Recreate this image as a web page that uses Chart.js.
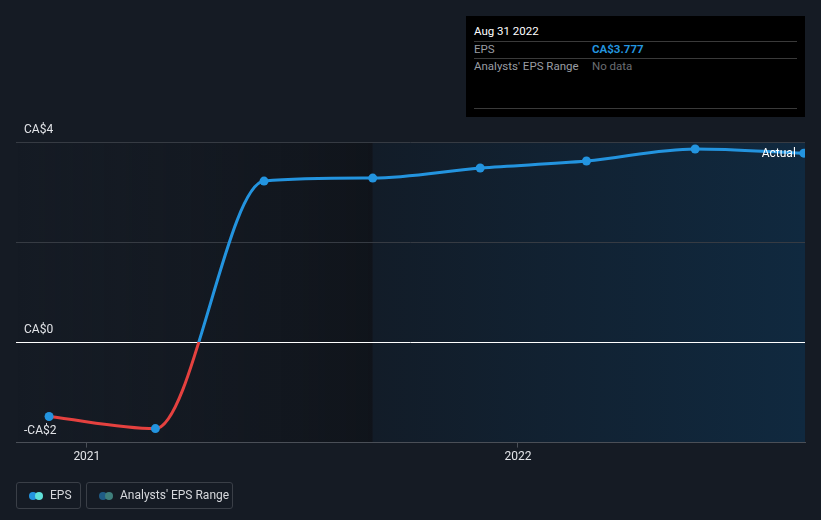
<!DOCTYPE html>
<html>
<head>
<meta charset="utf-8">
<script src="https://cdn.jsdelivr.net/npm/chart.js@4.4.0/dist/chart.umd.min.js"></script>
<style>
    body { margin: 0; background: #151b24; font-family: Roboto, sans-serif; }
    #wrap { position: relative; width: 821px; height: 520px; }
    #chart { position: absolute; left: 0; top: 0; }
    .tip { position: absolute; left: 466px; top: 16px; width: 339px; height: 101px; background: #000; }
    .tip .row { position: absolute; left: 8px; right: 8px; font-size: 11.5px; }
    .tip .sep { position: absolute; left: 8px; right: 8px; height: 1px; background: #3a3a3a; }
    .legend { position: absolute; top: 482px; height: 25px; border: 1px solid #3a3f47; border-radius: 3px; color: #d6d8dc; font-size: 12px; line-height: 25px; }
    .dots { position: absolute; top: 9px; width: 16px; height: 8px; }
    .dots span { position: absolute; top: 0; width: 8px; height: 8px; border-radius: 50%; }
</style>
</head>
<body>
<div id="wrap">
    <canvas id="chart" width="821" height="520"></canvas>
    <div class="tip">
        <div class="row" style="top:8px;color:#fff;">Aug 31 2022</div>
        <div class="sep" style="top:25px;"></div>
        <div class="row" style="top:26px;color:#9a9da3;">EPS<span style="position:absolute;left:118px;color:#2394df;font-weight:bold;">CA$3.777</span></div>
        <div class="sep" style="top:42px;"></div>
        <div class="row" style="top:43px;color:#9a9da3;">Analysts' EPS Range<span style="position:absolute;left:118px;color:#6a6d72;">No data</span></div>
        <div class="sep" style="top:92px;"></div>
    </div>
    <div class="legend" style="left:16px;width:63px;">
        <div class="dots" style="left:12px;"><span style="left:0;background:#2394df;"></span><span style="left:6px;background:#5fe0d8;"></span></div>
        <span style="position:absolute;left:33px;">EPS</span>
    </div>
    <div class="legend" style="left:86px;width:145px;">
        <div class="dots" style="left:12px;"><span style="left:0;background:#1f5c86;"></span><span style="left:6px;background:#3f7f7c;"></span></div>
        <span style="position:absolute;left:33px;">Analysts' EPS Range</span>
    </div>
</div>
<script>
// EPS history (CA$), quarterly trailing values
const epsDates = ['2020-11-30', '2021-02-28', '2021-05-31', '2021-08-31', '2021-11-30', '2022-02-28', '2022-05-31', '2022-08-31'];
const epsValues = [-1.48, -1.72, 3.22, 3.28, 3.48, 3.62, 3.86, 3.777];

const yearTickDates = ['2021-01-01', '2022-01-01'];
const yearTickLabels = ['2021', '2022'];

const yTickValues = [4, 2, 0, -2];
const yTickLabels = ['CA$4', '', 'CA$0', '-CA$2'];

const xStart = '2020-11-02';
const xEnd = '2022-09-01';
const shadeFrom = '2021-08-31';

const BLUE = '#2394df';
const RED = '#e5413f';

const toMs = s => Date.parse(s);

// background shading, drawn before the grid so the grid lines stay on top
const shadePlugin = {
    id: 'shade',
    beforeDraw(chart) {
        const { ctx, chartArea: a, scales } = chart;
        const xs = scales.x.getPixelForValue(toMs(shadeFrom));
        ctx.save();
        let g = ctx.createLinearGradient(a.left, 0, xs, 0);
        g.addColorStop(0, 'rgba(21,27,36,0)');
        g.addColorStop(1, 'rgba(10,12,16,0.45)');
        ctx.fillStyle = g;
        ctx.fillRect(a.left, a.top, xs - a.left, a.bottom - a.top);
        g = ctx.createLinearGradient(xs, 0, a.right, 0);
        g.addColorStop(0, '#121c28');
        g.addColorStop(1, '#10293f');
        ctx.fillStyle = g;
        ctx.fillRect(xs, a.top, a.right - xs, a.bottom - a.top);
        ctx.restore();
    },
    afterDatasetsDraw(chart) {
        const { ctx } = chart;
        const pts = chart.getDatasetMeta(0).data;
        const last = pts[pts.length - 1];
        ctx.save();
        ctx.fillStyle = '#ffffff';
        ctx.font = '12px Roboto';
        ctx.textAlign = 'right';
        ctx.textBaseline = 'middle';
        ctx.fillText('Actual', last.x - 8, last.y + 1);
        ctx.restore();
    }
};

new Chart(document.getElementById('chart'), {
    type: 'line',
    data: {
        datasets: [{
            label: 'EPS',
            data: epsDates.map((d, i) => ({ x: toMs(d), y: epsValues[i] })),
            borderColor: function(context) {
                const chart = context.chart;
                const a = chart.chartArea;
                if (!a) return BLUE;
                const y0 = chart.scales.y.getPixelForValue(0);
                const s = Math.min(1, Math.max(0, (y0 - a.top) / (a.bottom - a.top)));
                const g = chart.ctx.createLinearGradient(0, a.top, 0, a.bottom);
                g.addColorStop(0, BLUE);
                g.addColorStop(s, BLUE);
                g.addColorStop(s, RED);
                g.addColorStop(1, RED);
                return g;
            },
            borderWidth: 3,
            cubicInterpolationMode: 'monotone',
            pointRadius: 4.5,
            pointBackgroundColor: BLUE,
            pointBorderWidth: 0,
            fill: false
        }]
    },
    options: {
        responsive: false,
        animation: false,
        layout: { padding: { left: 0, right: 16, top: 142, bottom: 54 } },
        scales: {
            x: {
                type: 'linear',
                min: toMs(xStart),
                max: toMs(xEnd),
                afterBuildTicks: axis => { axis.ticks = yearTickDates.map(d => ({ value: toMs(d) })); },
                ticks: {
                    color: '#e2e4e8',
                    font: { family: 'Roboto', size: 12 },
                    padding: 2,
                    maxRotation: 0,
                    callback: value => yearTickLabels[yearTickDates.map(toMs).indexOf(value)]
                },
                grid: { drawOnChartArea: false, drawTicks: true, tickLength: 5, color: '#4a4f57' },
                border: { color: '#4a4f57' }
            },
            y: {
                min: -2,
                max: 4,
                afterBuildTicks: axis => { axis.ticks = yTickValues.map(v => ({ value: v })); },
                ticks: {
                    mirror: true,
                    padding: 8,
                    labelOffset: -12,
                    color: '#e2e4e8',
                    font: { family: 'Roboto', size: 12 },
                    callback: value => yTickLabels[yTickValues.indexOf(value)]
                },
                grid: {
                    drawTicks: false,
                    color: ctx => ctx.tick && ctx.tick.value === 0 ? '#ffffff' : '#363b43'
                },
                border: { display: false }
            }
        },
        plugins: {
            legend: { display: false },
            tooltip: { enabled: false }
        }
    },
    plugins: [shadePlugin]
});
</script>
</body>
</html>
